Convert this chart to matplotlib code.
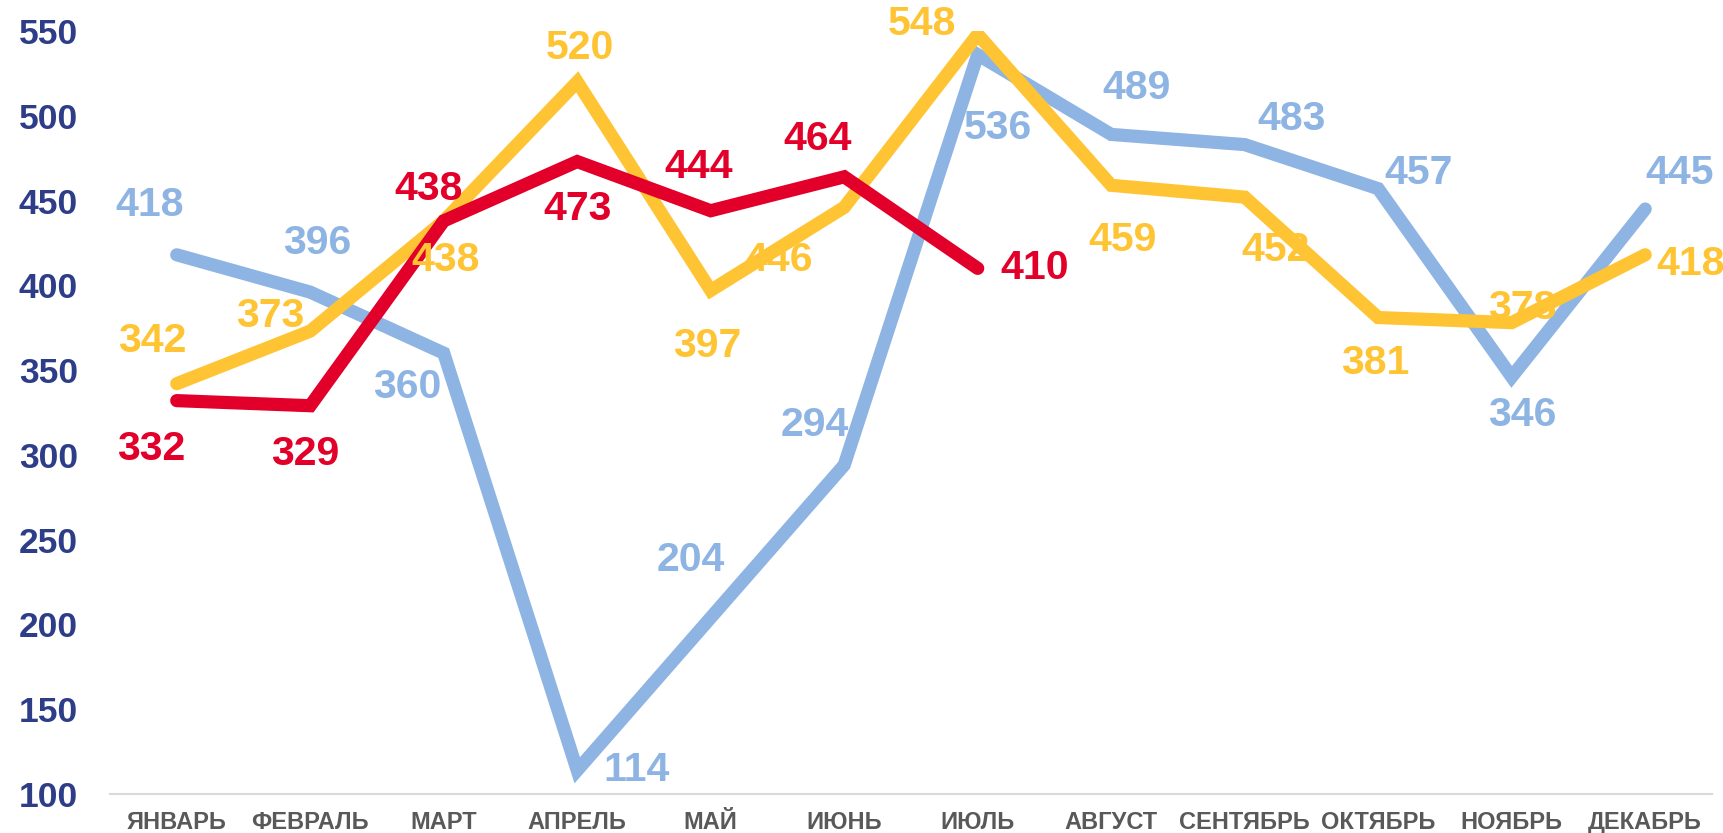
import matplotlib
matplotlib.use("Agg")
import matplotlib.pyplot as plt

# months and the three series (third one only up to July)
months = ['ЯНВАРЬ', 'ФЕВРАЛЬ', 'МАРТ', 'АПРЕЛЬ', 'МАЙ', 'ИЮНЬ', 'ИЮЛЬ',
          'АВГУСТ', 'СЕНТЯБРЬ', 'ОКТЯБРЬ', 'НОЯБРЬ', 'ДЕКАБРЬ']
blue_vals = [418, 396, 360, 114, 204, 294, 536, 489, 483, 457, 346, 445]
yellow_vals = [342, 373, 438, 520, 397, 446, 548, 459, 452, 381, 378, 418]
red_vals = [332, 329, 438, 473, 444, 464, 410]

# label offsets (pixels, y down) from each point
blue_off = [(-25, -45), (6, -45), (-33, 31), (54, 0), (-18, -52), (-27, -36),
            (18, 67), (23, -42), (43, -23), (37, -14), (10, 35), (31, -33)]
yellow_off = [(-22, -39), (-36, -14), (2, 36), (2, -31), (-3, 51), (-60, 48),
              (-51, -9), (10, 50), (28, 48), (-3, 41), (10, -13), (41, 8)]
red_off = [(-23, 44), (-5, 44), (-14, -29), (0, 43), (-11, -40), (-24, -34),
           (52, 0)]

c_blue = '#8EB4E3'
c_yellow = '#FFC433'
c_red = '#E2002B'

plt.rcParams['font.family'] = ['Liberation Sans', 'DejaVu Sans']
plt.rcParams['font.weight'] = 'bold'

fig = plt.figure(figsize=(17.24, 8.33), dpi=100)
ax = fig.add_axes([0.0638, 0.0468, 0.9292, 0.916])

x = list(range(len(months)))
k = 1.0995 * 0.72  # px -> points

for vals, offs, col in [(blue_vals, blue_off, c_blue),
                        (yellow_vals, yellow_off, c_yellow),
                        (red_vals, red_off, c_red)]:
    xs = x[:len(vals)]
    ax.plot(xs, vals, color=col, lw=9.5, solid_capstyle='round',
            solid_joinstyle='miter')
    for xi, v, (dx, dy) in zip(xs, vals, offs):
        ax.annotate(str(v), (xi, v), xytext=(dx * k, -dy * k),
                    textcoords='offset points', ha='center', va='center',
                    fontsize=29.5, fontweight='bold', color=col,
                    annotation_clip=False)

ax.set_xlim(-0.5, 11.5)
ax.set_ylim(100, 550)
ax.set_yticks(range(100, 551, 50))
ax.set_xticks(x)
ax.set_xticklabels(months)
ax.tick_params(axis='y', length=0, pad=23, labelsize=25.5, labelcolor='#2E3D87')
ax.tick_params(axis='x', length=0, pad=12, labelsize=17, labelcolor='#595959')
for s in ['top', 'right', 'left']:
    ax.spines[s].set_visible(False)
ax.spines['bottom'].set_color('#D9D9D9')
ax.spines['bottom'].set_linewidth(1.5)

plt.savefig('out.png', dpi=100)
